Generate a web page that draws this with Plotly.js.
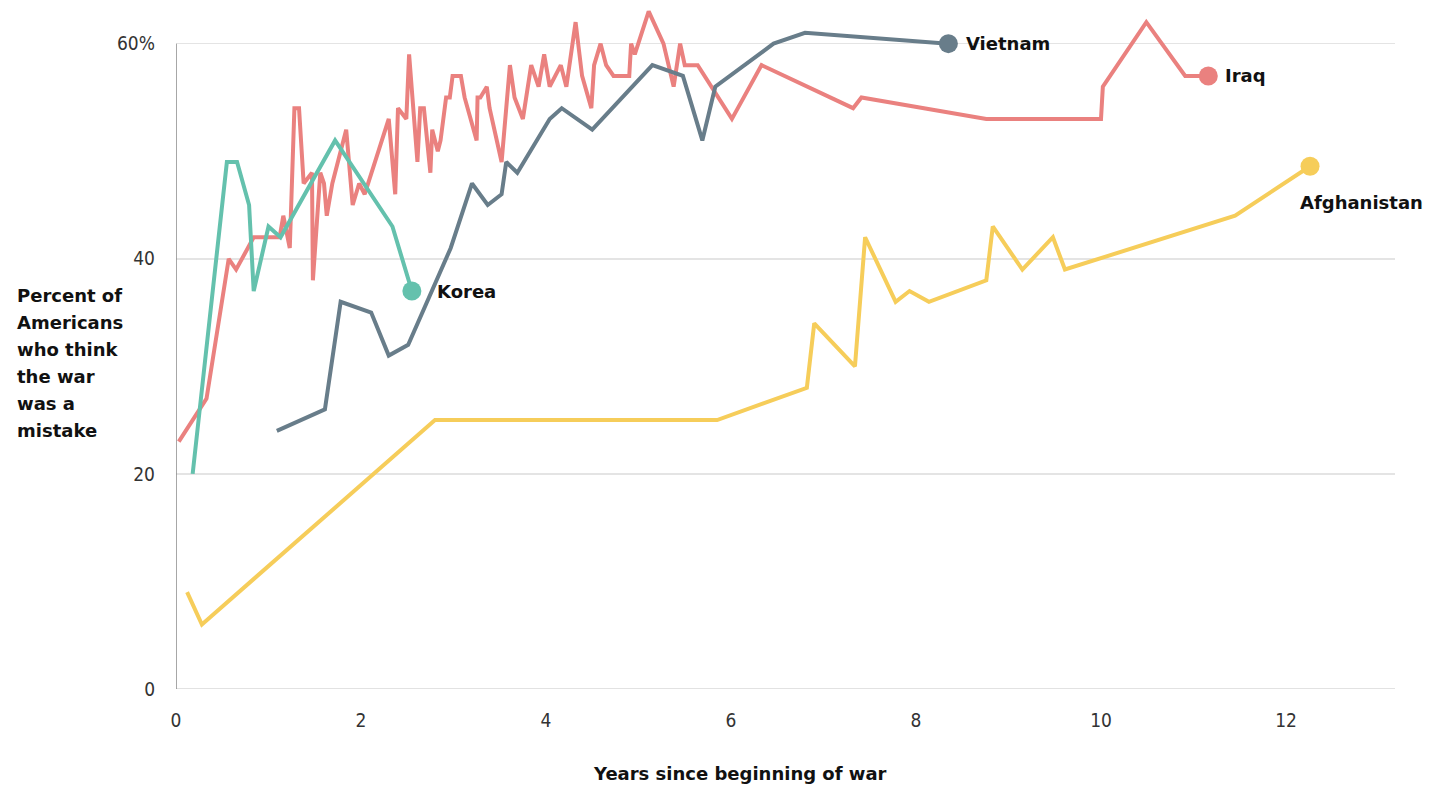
<!DOCTYPE html>
<html><head><meta charset="utf-8">
<script src="https://cdn.plot.ly/plotly-3.0.1.min.js"></script>
<style>html,body{margin:0;padding:0;background:#fff}#chart{width:1445px;height:788px}</style>
</head><body><div id="chart"></div>
<script>
// ---- data (years since beginning of war, percent saying war was a mistake) ----
const koreaX = [0.18,0.55,0.66,0.79,0.84,1.00,1.13,1.72,2.34,2.55];
const koreaY = [20,49,49,45,37,43,42,51,43,37];

const vietnamX = [1.09,1.61,1.78,2.11,2.30,2.51,2.97,3.20,3.37,3.52,3.57,3.69,4.04,4.17,4.50,5.15,5.48,5.69,5.83,6.46,6.80,8.35];
const vietnamY = [24,26,36,35,31,32,41,47,45,46,49,48,53,54,52,58,57,51,56,60,61,60];

const iraqX = [0.03,0.33,0.57,0.65,0.84,1.12,1.16,1.23,1.28,1.33,1.38,1.47,1.48,1.56,1.60,1.63,1.69,1.84,1.91,1.98,2.04,2.30,2.37,2.40,2.49,2.52,2.61,2.64,2.68,2.75,2.77,2.83,2.86,2.92,2.96,2.99,3.08,3.12,3.25,3.26,3.29,3.36,3.39,3.52,3.61,3.66,3.75,3.84,3.92,3.98,4.04,4.10,4.16,4.22,4.32,4.39,4.49,4.52,4.59,4.65,4.73,4.90,4.92,4.96,5.11,5.27,5.38,5.45,5.50,5.64,6.01,6.33,7.32,7.41,8.76,10.00,10.02,10.49,10.91,11.16];
const iraqY = [23,27,40,39,42,42,44,41,54,54,47,48,38,48,47,44,47,52,45,47,46,53,46,54,53,59,49,54,54,48,52,50,51,55,55,57,57,55,51,55,55,56,54,49,58,55,53,58,56,59,56,57,58,56,62,57,54,58,60,58,57,57,60,59,63,60,56,60,58,58,53,58,54,55,53,53,56,62,57,57];

const afghanX = [0.12,0.28,2.80,5.85,6.82,6.90,7.34,7.45,7.78,7.93,8.14,8.76,8.83,9.15,9.48,9.61,11.45,12.26];
const afghanY = [9,6,25,25,28,34,30,42,36,37,36,38,43,39,42,39,44,48.6];

const warNames = ['Afghanistan','Iraq','Vietnam','Korea'];
const xTickVals = [0,2,4,6,8,10,12];
const yTickVals = [0,20,40,60];
const yTickText = ['0','20','40','60%'];
const yTitleLines = ['Percent of','Americans','who think','the war','was a','mistake'];
const xTitle = 'Years since beginning of war';

// ---- styling ----
const colors = {Korea:'#64C1AD', Vietnam:'#687D8A', Iraq:'#EA817F', Afghanistan:'#F6CD5A'};
const series = {
  Afghanistan:[afghanX, afghanY],
  Iraq:[iraqX, iraqY],
  Vietnam:[vietnamX, vietnamY],
  Korea:[koreaX, koreaY]
};
const labelShift = {Korea:{x:23,y:0,anchor:'left'}, Vietnam:{x:16,y:0,anchor:'left'}, Iraq:{x:15,y:0,anchor:'left'}, Afghanistan:{x:-12,y:-36,anchor:'left'}};

const traces = [];
const annotations = [];
warNames.forEach(name => {
  const [x, y] = series[name];
  traces.push({x, y, type:'scatter', mode:'lines', line:{color:colors[name], width:4}, hoverinfo:'skip', showlegend:false});
});
warNames.forEach(name => {
  const [x, y] = series[name];
  const lx = x[x.length-1], ly = y[y.length-1];
  traces.push({x:[lx], y:[ly], type:'scatter', mode:'markers', marker:{color:colors[name], size:19}, hoverinfo:'skip', showlegend:false});
  annotations.push({x:lx, y:ly, xref:'x', yref:'y', text:'<b>'+name+'</b>', showarrow:false,
    xanchor:labelShift[name].anchor, yanchor:'middle', xshift:labelShift[name].x, yshift:labelShift[name].y,
    font:{family:'DejaVu Sans, Liberation Sans, sans-serif', size:18, color:'#111'}});
});

// plot geometry in pixels
const L = 176, R = 1395, T = 6, B = 689;
const pw = R - L, ph = B - T;
yTitleLines.forEach((line, i) => {
  const yc = 296 + i*26.8;
  annotations.push({xref:'paper', yref:'paper', x:(15-L)/pw, y:(B-yc)/ph, xanchor:'left', yanchor:'middle',
    text:'<b>'+line+'</b>', showarrow:false, align:'left',
    font:{family:'DejaVu Sans, Liberation Sans, sans-serif', size:18, color:'#111'}});
});
annotations.push({xref:'paper', yref:'paper', x:(740-L)/pw, y:(B-773)/ph, xanchor:'center', yanchor:'middle',
  text:'<b>'+xTitle+'</b>', showarrow:false,
  font:{family:'DejaVu Sans, Liberation Sans, sans-serif', size:18, color:'#111'}});

const tickFont = {family:'Liberation Sans Narrow, DejaVu Sans Condensed, Liberation Sans, sans-serif', size:19, color:'#333'};

const layout = {
  width:1445, height:788,
  margin:{l:L, r:1445-R, t:T, b:788-B, pad:0},
  paper_bgcolor:'#fff', plot_bgcolor:'#fff',
  showlegend:false,
  xaxis:{range:[0, pw/92.5], tickvals:xTickVals, ticks:'', showgrid:false, zeroline:false, showline:false,
    tickfont:tickFont, ticklabelstandoff:18, fixedrange:true},
  yaxis:{range:[0, ph/10.756], tickvals:yTickVals, ticktext:yTickText, ticks:'', showgrid:true,
    gridcolor:'#e4e4e4', gridwidth:1.5, zeroline:false, showline:false,
    tickfont:tickFont, ticklabelstandoff:20, fixedrange:true},
  shapes:[
    {type:'line', xref:'paper', yref:'y', x0:0, x1:1, y0:0, y1:0, line:{color:'#e2e2e2', width:2}, layer:'below'},
    {type:'line', xref:'x', yref:'y', x0:0, x1:0, y0:0, y1:yTickVals[yTickVals.length-1], line:{color:'#8a8a8a', width:1.5}}
  ],
  annotations
};

Plotly.newPlot('chart', traces, layout, {displayModeBar:false, staticPlot:true});
</script>
</body></html>
